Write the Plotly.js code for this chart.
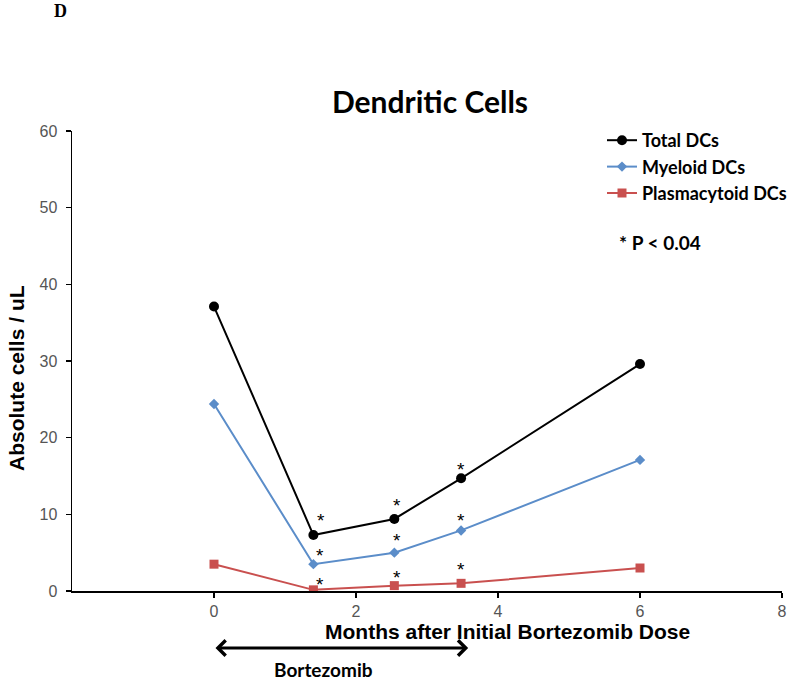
<!DOCTYPE html>
<html>
<head>
<meta charset="utf-8">
<script src="https://cdn.plot.ly/plotly-3.0.1.min.js"></script>
<style>html,body{margin:0;padding:0;background:#fff;}#chart{width:800px;height:682px;}</style>
</head>
<body>
<div id="chart"></div>
<script>
// Data
const months = [0, 1.4, 2.54, 3.48, 6];
const totalDCs = [37.1, 7.3, 9.4, 14.7, 29.6];
const myeloidDCs = [24.4, 3.5, 5.0, 7.9, 17.1];
const plasmacytoidDCs = [3.5, 0.15, 0.7, 1.0, 3.0];
const xTickVals = [0, 2, 4, 6, 8];
const yTickVals = [0, 10, 20, 30, 40, 50, 60];
// significance markers (*)
const starX = [1.5, 2.58, 3.48, 1.49, 2.58, 3.48, 1.49, 2.58, 3.48];
const starY = [9.8, 11.8, 16.5, 5.25, 7.2, 9.9, 1.5, 2.4, 3.5];
// bortezomib treatment period (months)
const bortezomibPeriod = [0, 3.58];

const sans = "Liberation Sans, Arial, sans-serif";
const cal = "Lato, Carlito, Calibri, sans-serif";

const L = 72, R = 782, T = 131, B = 591;
const px = v => (v - L) / (R - L);
const py = v => (B - v) / (B - T);

const traces = [
  {x: months, y: totalDCs, name: 'Total DCs', type: 'scatter', mode: 'lines+markers',
   line: {color: '#000000', width: 2}, marker: {symbol: 'circle', size: 10, color: '#000000'}},
  {x: months, y: myeloidDCs, name: 'Myeloid DCs', type: 'scatter', mode: 'lines+markers',
   line: {color: '#5B8DC9', width: 2}, marker: {symbol: 'diamond', size: 8, color: '#5B8DC9'}},
  {x: months, y: plasmacytoidDCs, name: 'Plasmacytoid DCs', type: 'scatter', mode: 'lines+markers',
   line: {color: '#C9504F', width: 2}, marker: {symbol: 'square', size: 9, color: '#C9504F'}}
];

const annotations = starX.map((sx, i) => ({
  x: sx, y: starY[i], xref: 'x', yref: 'y', text: '*', showarrow: false,
  font: {family: sans, size: 19, color: '#000000'}, yshift: -5
}));

annotations.push({
  xref: 'x', yref: 'paper', axref: 'x', ayref: 'paper',
  x: bortezomibPeriod[1], y: py(648), ax: bortezomibPeriod[0], ay: py(648),
  text: '', showarrow: true, arrowside: 'end+start', arrowhead: 4, startarrowhead: 4,
  arrowsize: 1, startarrowsize: 1, arrowwidth: 3, arrowcolor: '#000'
});
annotations.push({
  xref: 'paper', yref: 'paper', x: px(323), y: py(669),
  text: 'Bortezomib', showarrow: false, xanchor: 'center', yanchor: 'middle',
  font: {family: cal, size: 19, color: '#000', weight: 'bold'}
});
annotations.push({
  xref: 'paper', yref: 'paper', x: px(508), y: py(631),
  text: 'Months after Initial Bortezomib Dose', showarrow: false, xanchor: 'center', yanchor: 'middle',
  font: {family: sans, size: 21, color: '#000', weight: 'bold'}
});
annotations.push({
  xref: 'paper', yref: 'paper', x: px(16), y: py(378), textangle: -90,
  text: 'Absolute cells / uL', showarrow: false, xanchor: 'center', yanchor: 'middle',
  font: {family: sans, size: 21, color: '#000', weight: 'bold'}
});
annotations.push({
  xref: 'paper', yref: 'paper', x: px(617), y: py(242),
  text: '* P < 0.04', showarrow: false, xanchor: 'left', yanchor: 'middle',
  font: {family: cal, size: 19, color: '#000', weight: 'bold'}
});
annotations.push({
  xref: 'paper', yref: 'paper', x: px(60), y: py(11),
  text: 'D', showarrow: false, xanchor: 'center', yanchor: 'middle',
  font: {family: "Liberation Serif, Times New Roman, serif", size: 18, color: '#000', weight: 'bold'}
});

const layout = {
  width: 800, height: 682,
  margin: {l: L, r: 800 - R, t: T, b: 682 - B, pad: 0, autoexpand: false},
  paper_bgcolor: '#fff', plot_bgcolor: '#fff',
  title: {text: 'Dendritic Cells', x: 430 / 800, xanchor: 'center', y: 1 - 102 / 682, yanchor: 'middle',
          font: {family: cal, size: 30, color: '#000', weight: 'bold'}},
  xaxis: {range: [-2, 8], tickvals: xTickVals, ticktext: xTickVals.map(String),
          showgrid: false, zeroline: false, showline: true, linecolor: '#000', linewidth: 1.5,
          ticks: 'outside', ticklen: 5, tickwidth: 1.5, tickcolor: '#000',
          tickfont: {family: sans, size: 16, color: '#555'}, anchor: 'y'},
  yaxis: {range: [0, 60], tickvals: yTickVals, showgrid: false, zeroline: false,
          showline: true, linecolor: '#000', linewidth: 1.5,
          ticks: 'outside', ticklen: 5, tickwidth: 1.5, tickcolor: '#000',
          ticklabelstandoff: 5,
          tickfont: {family: sans, size: 16, color: '#555'}},
  showlegend: true,
  legend: {x: px(602), y: py(122), xanchor: 'left', yanchor: 'top',
           bgcolor: 'rgba(0,0,0,0)', borderwidth: 0,
           font: {family: cal, size: 18, color: '#000', weight: 'bold'}},
  annotations: annotations
};

Plotly.newPlot('chart', traces, layout, {displayModeBar: false, staticPlot: true});
</script>
</body>
</html>
